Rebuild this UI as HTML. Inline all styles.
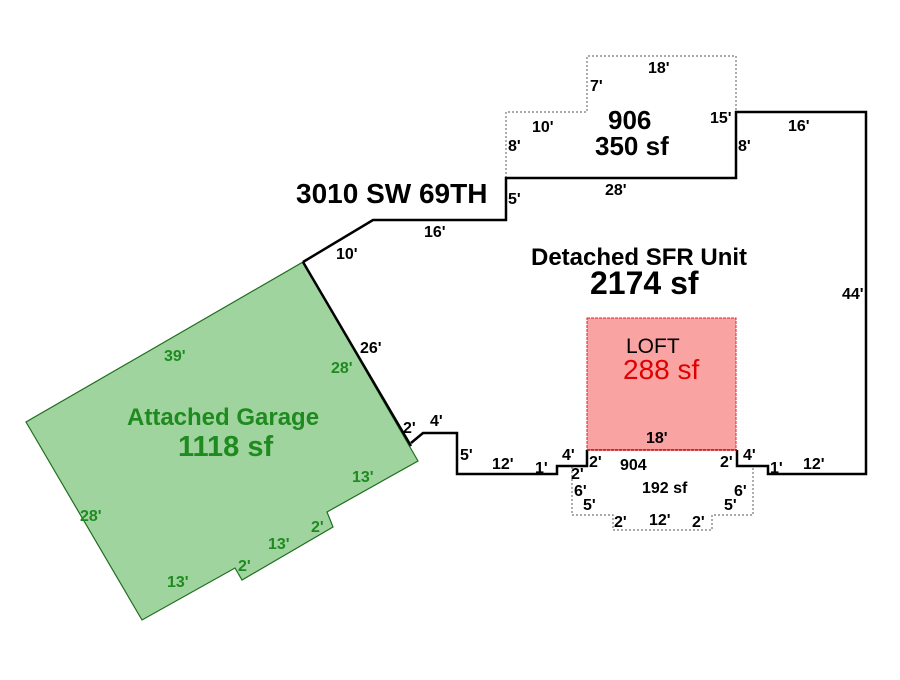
<!DOCTYPE html>
<html><head><meta charset="utf-8"><style>
html,body{margin:0;padding:0;background:#fff;}
svg text{font-family:"Liberation Sans",Arial,sans-serif;font-weight:bold;}
</style></head><body>
<svg width="900" height="675" viewBox="0 0 900 675" xmlns="http://www.w3.org/2000/svg">
<rect width="900" height="675" fill="#fff"/>
<polygon points="303,262 418,461 327,512 333,527 242,580 235,568 142,620 26,422" fill="#9fd49f" stroke="#1f6e1f" stroke-width="1.2"/>
<rect x="587" y="318" width="149" height="132" fill="#f9a3a3" stroke="#e02020" stroke-width="1" stroke-dasharray="3,1"/>
<polyline points="506,178 506,112 587,112 587,56 736,56 736,112" fill="none" stroke="#777" stroke-width="1.2" stroke-dasharray="2,2"/>
<polyline points="572,467 572,515 613,515 613,530 712,530 712,515 753,515 753,467" fill="none" stroke="#777" stroke-width="1.2" stroke-dasharray="2,2"/>
<polyline points="303,262 373,220 506,220 506,178 736,178 736,112 866,112 866,474 768,474 768,466 737,466 737,450" fill="none" stroke="#000" stroke-width="2.5"/>
<polyline points="587,450 587,466 557,466 557,474 457,474 457,433 423,433 411,443" fill="none" stroke="#000" stroke-width="2.5"/>
<line x1="303" y1="262" x2="411" y2="446" stroke="#000" stroke-width="2.5"/>
<line x1="587" y1="450" x2="737" y2="450" stroke="#c00000" stroke-width="1.5" stroke-dasharray="3,1"/>

<g font-size="16" fill="#000">
<text x="648" y="73">18'</text>
<text x="590" y="91">7'</text>
<text x="532" y="132">10'</text>
<text x="508" y="151">8'</text>
<text x="710" y="123">15'</text>
<text x="738" y="151">8'</text>
<text x="788" y="131">16'</text>
<text x="605" y="195">28'</text>
<text x="508" y="204">5'</text>
<text x="424" y="237">16'</text>
<text x="336" y="259">10'</text>
<text x="842" y="299">44'</text>
<text x="360" y="353">26'</text>
<text x="403" y="433">2'</text>
<text x="430" y="426">4'</text>
<text x="460" y="460">5'</text>
<text x="492" y="469">12'</text>
<text x="535" y="473">1'</text>
<text x="562" y="460">4'</text>
<text x="589" y="467">2'</text>
<text x="720" y="467">2'</text>
<text x="743" y="460">4'</text>
<text x="770" y="473">1'</text>
<text x="803" y="469">12'</text>
<text x="646" y="443">18'</text>
<text x="620" y="470">904</text>
<text x="642" y="493">192 sf</text>
<text x="571" y="479">2'</text>
<text x="574" y="496">6'</text>
<text x="583" y="510">5'</text>
<text x="734" y="496">6'</text>
<text x="724" y="510">5'</text>
<text x="614" y="527">2'</text>
<text x="649" y="525">12'</text>
<text x="692" y="527">2'</text>
</g>
<text x="608" y="129" font-size="26">906</text>
<text x="595" y="155" font-size="26">350 sf</text>
<text x="296" y="203" font-size="28">3010 SW 69TH</text>
<text x="531" y="265" font-size="24">Detached SFR Unit</text>
<text x="590" y="294" font-size="32">2174 sf</text>
<text x="626" y="353" font-size="21" style="font-weight:normal">LOFT</text>
<text x="623" y="379" font-size="28" fill="#e00000" style="font-weight:normal">288 sf</text>
<g fill="#1f8a1f">
<text x="127" y="425" font-size="24">Attached Garage</text>
<text x="178" y="456" font-size="29">1118 sf</text>
<g font-size="16">
<text x="164" y="361">39'</text>
<text x="331" y="373">28'</text>
<text x="80" y="521">28'</text>
<text x="352" y="482">13'</text>
<text x="311" y="532">2'</text>
<text x="268" y="549">13'</text>
<text x="238" y="571">2'</text>
<text x="167" y="587">13'</text>
</g>
</g>
</svg>
</body></html>
